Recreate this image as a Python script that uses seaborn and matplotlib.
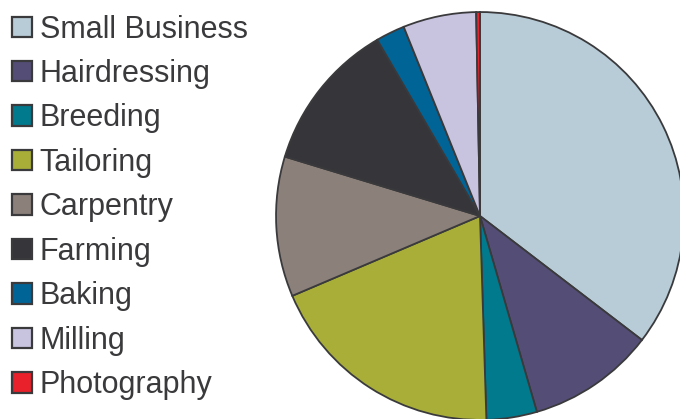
import matplotlib
matplotlib.use("Agg")
import matplotlib.pyplot as plt
import seaborn as sns

categories = ["Small Business", "Hairdressing", "Breeding", "Tailoring", "Carpentry",
              "Farming", "Baking", "Milling", "Photography"]
values = [35.4, 10.1, 4.0, 19.1, 11.1, 11.9, 2.3, 5.8, 0.3]
colors = ["#B8CCD7", "#544E77", "#007A8C", "#A8AE38", "#8C807B",
          "#36353A", "#006497", "#C8C4E0", "#E8212A"]

sns.set_theme(style="white")
plt.rcParams["font.family"] = ["Liberation Sans", "DejaVu Sans"]
palette = sns.color_palette(colors)

W, H = 680, 419
fig = plt.figure(figsize=(W / 100, H / 100), dpi=100)
cx, cy, r = 480, 216, 206
ax = fig.add_axes([(cx - r) / W, (H - cy - r) / H, 2 * r / W, 2 * r / H])
wedges, _ = ax.pie(values, colors=palette, startangle=90, counterclock=False,
                   radius=1, wedgeprops=dict(edgecolor="#3A3A3C", linewidth=1.3))
ax.set_xlim(-1.01, 1.01)
ax.set_ylim(-1.01, 1.01)
ax.set_aspect("equal")
ax.axis("off")

leg = fig.legend(wedges, categories, loc="upper left",
                 bbox_to_anchor=(12 / W, 1 - 14.5 / H),
                 frameon=False, fontsize=22, handlelength=0.65, handleheight=0.65,
                 handletextpad=0.25, labelspacing=0.473, borderaxespad=0,
                 borderpad=0, labelcolor="#3A3A3C")
for t in leg.get_texts():
    t.set_color("#3A3A3C")
for p in leg.get_patches():
    p.set_linewidth(1.6)

fig.savefig("out.png", dpi=100)
